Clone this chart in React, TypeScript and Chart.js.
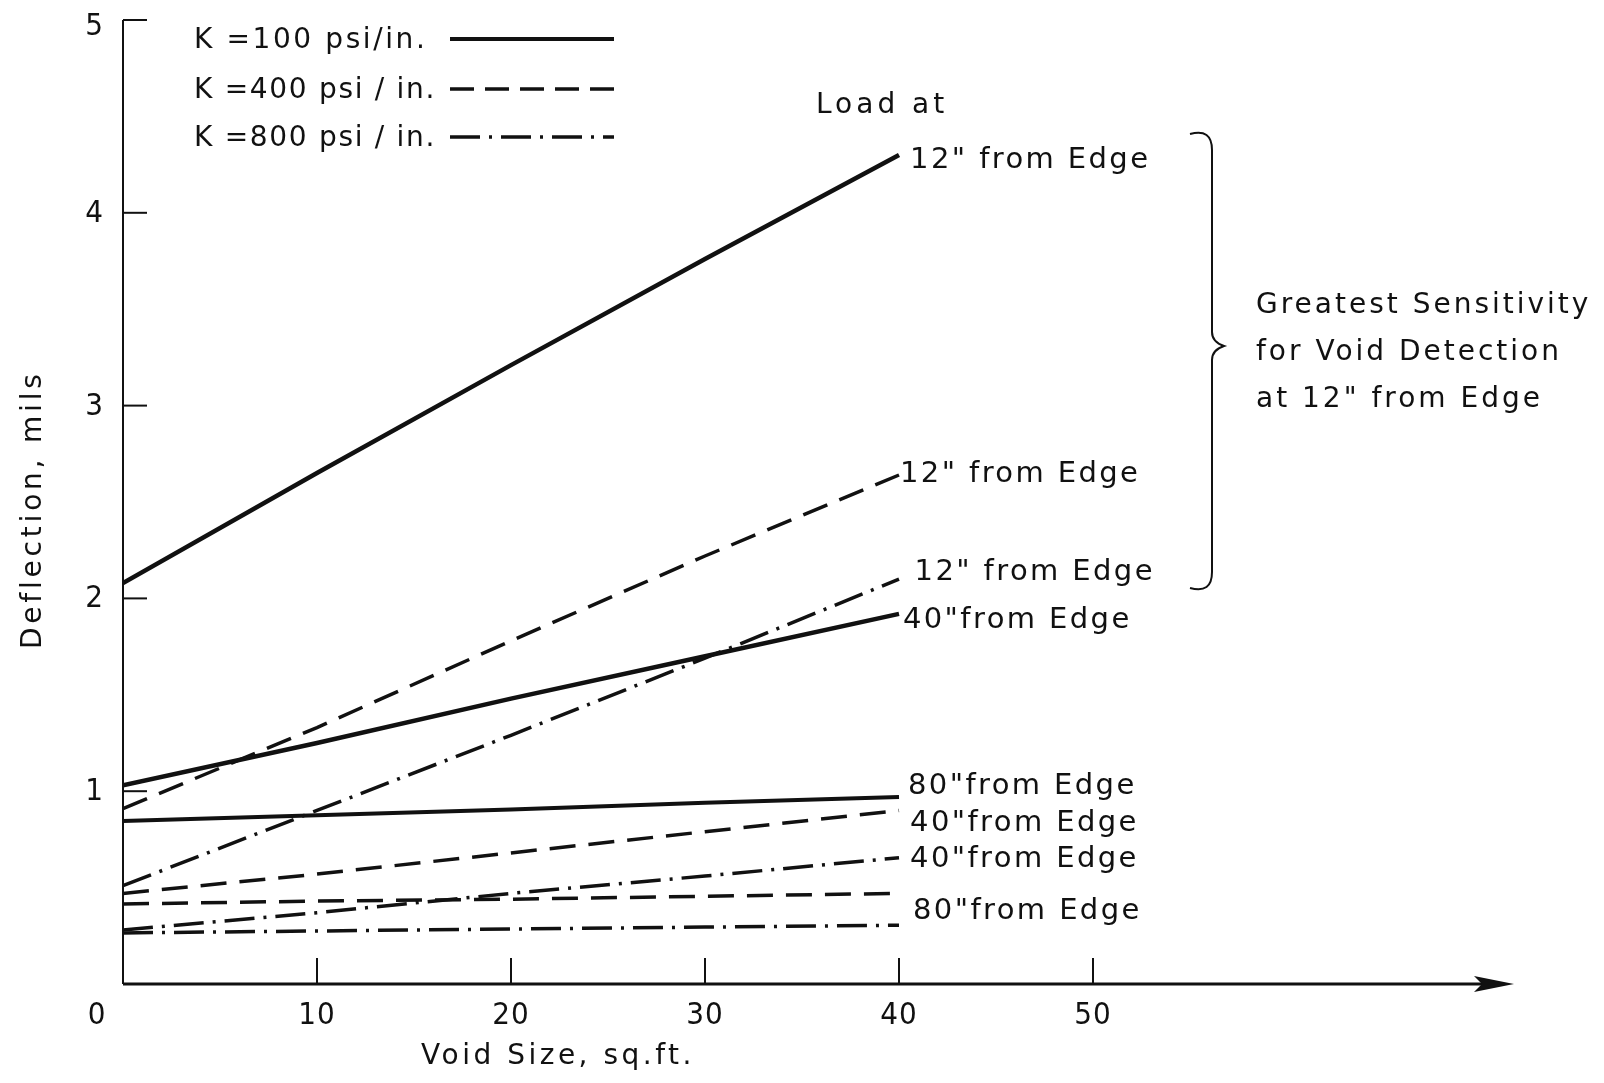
import React, { useEffect, useRef } from "react";
import { Chart, registerables } from "chart.js";

Chart.register(...registerables);

// ---- data ----
const voidSizes = [0, 10, 20, 30, 40]; // sq. ft.

const k100_12 = [2.08, 2.65, 3.21, 3.76, 4.3];
const k100_40 = [1.03, 1.25, 1.48, 1.7, 1.92];
const k100_80 = [0.845, 0.875, 0.905, 0.94, 0.97];

const k400_12 = [0.91, 1.33, 1.78, 2.22, 2.64];
const k400_40 = [0.47, 0.57, 0.68, 0.79, 0.9];
const k400_80 = [0.415, 0.43, 0.44, 0.455, 0.47];

const k800_12 = [0.51, 0.9, 1.29, 1.69, 2.1];
const k800_40 = [0.28, 0.37, 0.47, 0.56, 0.655];
const k800_80 = [0.265, 0.275, 0.285, 0.295, 0.305];

const xTickValues = [0, 10, 20, 30, 40, 50];
const xTickLabels = ["0", "10", "20", "30", "40", "50"];
const yTickValues = [1, 2, 3, 4, 5];
const yTickLabels = ["1", "2", "3", "4", "5"];

const legendLabels = ["K =100 psi/in.", "K =400 psi / in.", "K =800 psi / in."];

// end-of-line annotation texts (x, y in data units)
const endLabelTexts = [
  '12" from Edge',
  '12" from Edge',
  '12" from Edge',
  '40"from Edge',
  '80"from Edge',
  '40"from Edge',
  '40"from Edge',
  '80"from Edge',
];
const endLabelX = [40.57, 40.05, 40.8, 40.2, 40.46, 40.57, 40.57, 40.72];
const endLabelY = [4.27, 2.645, 2.132, 1.883, 1.022, 0.835, 0.644, 0.374];

const noteLines = ["Greatest Sensitivity", "for Void Detection", 'at 12" from Edge'];

const X_MAX = 71.7;
const Y_MAX = 5;

const SOLID: number[] = [];
const DASH = [26, 13];
const DASHDOT = [30, 9, 3, 9];

const FONT = '"DejaVu Sans", sans-serif';
const DIGIT_FONT = '"DejaVu Sans Condensed", "DejaVu Sans", sans-serif';

function pts(ys: number[]) {
  return voidSizes.map((x, i) => ({ x, y: ys[i] }));
}

function drawSpaced(
  ctx: CanvasRenderingContext2D,
  text: string,
  x: number,
  y: number,
  size: number,
  spacing: number,
  align: CanvasTextAlign = "left",
  family: string = FONT
) {
  ctx.save();
  ctx.font = `${size}px ${family}`;
  (ctx as any).letterSpacing = `${spacing}px`;
  ctx.textAlign = align;
  ctx.textBaseline = "middle";
  ctx.fillStyle = "#111";
  ctx.fillText(text, x, y);
  ctx.restore();
}

const axesPlugin = {
  id: "handDrawnAxes",
  afterDatasetsDraw(chart: any) {
    const ctx: CanvasRenderingContext2D = chart.ctx;
    const xs = chart.scales.x;
    const ys = chart.scales.y;
    const x0 = xs.getPixelForValue(0);
    const y0 = ys.getPixelForValue(0);
    const yTop = ys.getPixelForValue(Y_MAX);
    const xEnd = xs.getPixelForValue(X_MAX);

    ctx.save();
    ctx.strokeStyle = "#111";
    ctx.fillStyle = "#111";
    ctx.lineCap = "butt";

    // y axis
    ctx.lineWidth = 2;
    ctx.beginPath();
    ctx.moveTo(x0, yTop);
    ctx.lineTo(x0, y0);
    ctx.stroke();
    // y ticks (inside)
    yTickValues.forEach((v) => {
      const py = ys.getPixelForValue(v);
      ctx.beginPath();
      ctx.moveTo(x0, py);
      ctx.lineTo(x0 + 24, py);
      ctx.stroke();
    });

    // x axis with arrow
    ctx.lineWidth = 3;
    ctx.beginPath();
    ctx.moveTo(x0, y0);
    ctx.lineTo(xEnd - 30, y0);
    ctx.stroke();
    ctx.beginPath();
    ctx.moveTo(xEnd, y0);
    ctx.lineTo(xEnd - 40, y0 - 8);
    ctx.lineTo(xEnd - 32, y0);
    ctx.lineTo(xEnd - 40, y0 + 8);
    ctx.closePath();
    ctx.fill();

    // x ticks (inside)
    ctx.lineWidth = 2;
    xTickValues.forEach((v) => {
      if (v === 0) return;
      const px = xs.getPixelForValue(v);
      ctx.beginPath();
      ctx.moveTo(px, y0);
      ctx.lineTo(px, y0 - 26);
      ctx.stroke();
    });

    // tick labels
    xTickValues.forEach((v, i) => {
      const px = v === 0 ? x0 - 26 : xs.getPixelForValue(v);
      drawSpaced(ctx, xTickLabels[i], px, y0 + 32, 31, 1, "center", DIGIT_FONT);
    });
    yTickValues.forEach((v, i) => {
      const py = ys.getPixelForValue(v) + (v === 5 ? 7 : 1);
      drawSpaced(ctx, yTickLabels[i], x0 - 29, py, 31, 0, "center", DIGIT_FONT);
    });

    // axis titles
    drawSpaced(ctx, "Void Size, sq.ft.", x0 + 435, y0 + 73, 28, 3.5, "center");
    ctx.save();
    ctx.translate(34, ys.getPixelForValue(2.46));
    ctx.rotate(-Math.PI / 2);
    drawSpaced(ctx, "Deflection, mils", 0, 0, 28, 3.8, "center");
    ctx.restore();

    // legend
    const legendY = [41, 91, 139];
    const legendSpacing = [2.6, 1.7, 1.7];
    const dashes = [SOLID, DASH, DASHDOT];
    const widths = [4, 3.5, 3.5];
    legendLabels.forEach((t, i) => {
      drawSpaced(ctx, t, 194, legendY[i], 28, legendSpacing[i], "left");
      ctx.save();
      ctx.lineWidth = widths[i];
      ctx.setLineDash(i === 1 ? [24, 11] : dashes[i]);
      ctx.beginPath();
      ctx.moveTo(450, legendY[i] - 2);
      ctx.lineTo(614, legendY[i] - 2);
      ctx.stroke();
      ctx.restore();
    });

    // "Load at"
    drawSpaced(ctx, "Load at", 816, 106, 28, 4, "left");

    // end labels
    endLabelTexts.forEach((t, i) => {
      drawSpaced(
        ctx,
        t,
        xs.getPixelForValue(endLabelX[i]),
        ys.getPixelForValue(endLabelY[i]),
        29,
        2.4,
        "left"
      );
    });

    // brace
    const bx = 1212;
    const bTop = 134;
    const bBot = 588;
    const bMid = 346;
    ctx.lineWidth = 2;
    ctx.beginPath();
    ctx.moveTo(1190, bTop);
    ctx.quadraticCurveTo(bx, bTop - 6, bx, bTop + 16);
    ctx.lineTo(bx, bMid - 14);
    ctx.quadraticCurveTo(bx, bMid - 4, bx + 12, bMid);
    ctx.quadraticCurveTo(bx, bMid + 4, bx, bMid + 14);
    ctx.lineTo(bx, bBot - 16);
    ctx.quadraticCurveTo(bx, bBot + 6, 1190, bBot);
    ctx.stroke();

    // note
    const noteY = [306, 353, 400];
    noteLines.forEach((t, i) => {
      drawSpaced(ctx, t, 1256, noteY[i], 28, 3.0, "left");
    });

    ctx.restore();
  },
};

export default function App() {
  const ref = useRef<HTMLCanvasElement | null>(null);

  useEffect(() => {
    document.body.style.margin = "0";
    const canvas = ref.current;
    if (!canvas) return;
    const mk = (label: string, ys: number[], dash: number[], width: number) => ({
      label,
      data: pts(ys),
      borderColor: "#111",
      backgroundColor: "#111",
      borderWidth: width,
      borderDash: dash,
      pointRadius: 0,
      tension: 0,
      fill: false,
      borderCapStyle: "butt" as const,
    });
    const chart = new Chart(canvas, {
      type: "line",
      data: {
        datasets: [
          mk("K=100, 12in", k100_12, SOLID, 4.5),
          mk("K=100, 40in", k100_40, SOLID, 4.5),
          mk("K=100, 80in", k100_80, SOLID, 4),
          mk("K=400, 12in", k400_12, DASH, 3.5),
          mk("K=400, 40in", k400_40, DASH, 3.5),
          mk("K=400, 80in", k400_80, DASH, 3.5),
          mk("K=800, 12in", k800_12, DASHDOT, 3.5),
          mk("K=800, 40in", k800_40, DASHDOT, 3.5),
          mk("K=800, 80in", k800_80, DASHDOT, 3.5),
        ],
      },
      options: {
        responsive: false,
        animation: false,
        devicePixelRatio: 1,
        layout: { padding: { left: 123, right: 90, top: 20, bottom: 99 } },
        plugins: { legend: { display: false }, tooltip: { enabled: false } },
        scales: {
          x: { type: "linear", min: 0, max: X_MAX, display: false },
          y: { type: "linear", min: 0, max: Y_MAX, display: false },
        },
      },
      plugins: [axesPlugin],
    });
    return () => chart.destroy();
  }, []);

  return (
    <div style={{ position: "fixed", left: 0, top: 0, width: 1604, height: 1083, background: "#fff" }}>
      <canvas ref={ref} width={1604} height={1083} />
    </div>
  );
}
